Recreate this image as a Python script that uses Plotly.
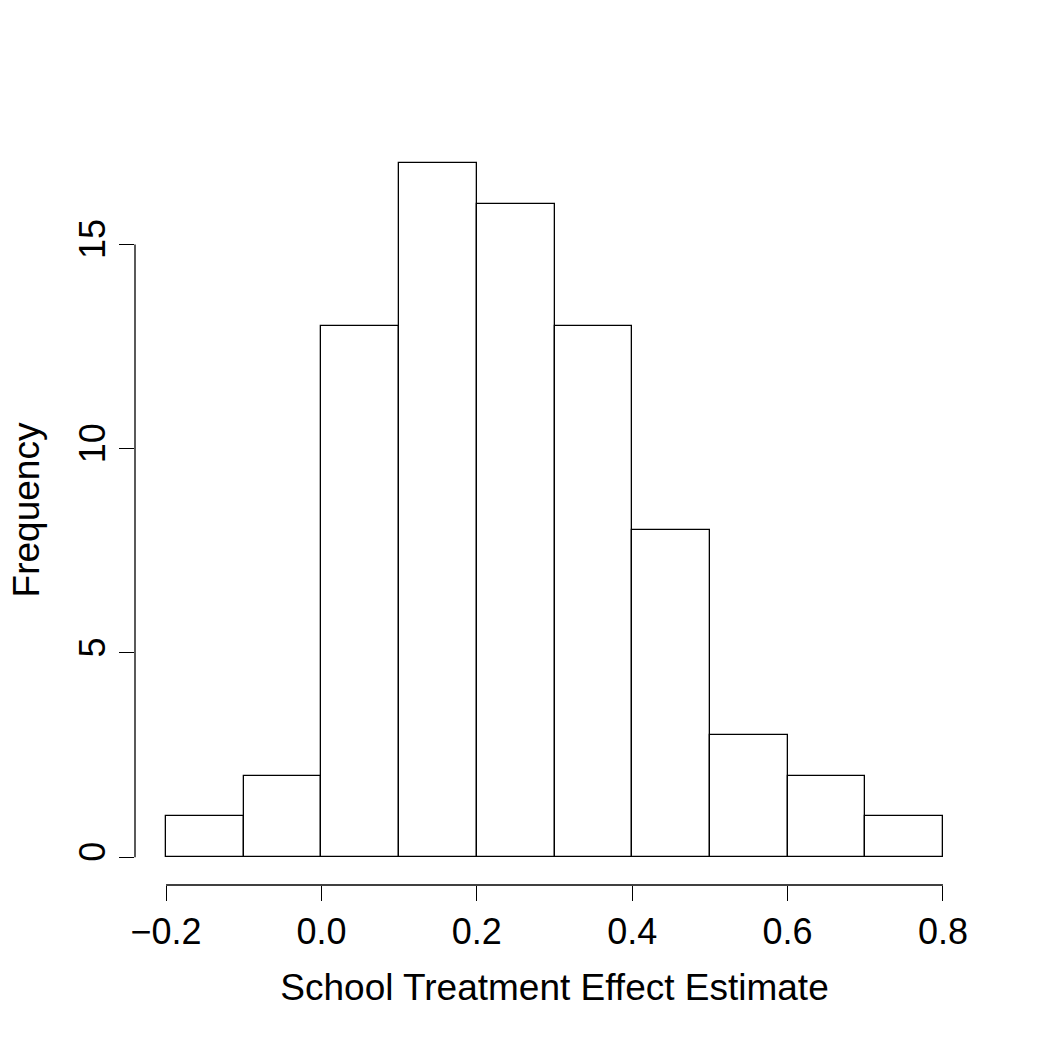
import plotly.graph_objects as go

bin_left = [-0.2, -0.1, 0.0, 0.1, 0.2, 0.3, 0.4, 0.5, 0.6, 0.7]
bin_width = 0.1
counts = [1, 2, 13, 17, 16, 13, 8, 3, 2, 1]
x_ticks = [-0.2, 0.0, 0.2, 0.4, 0.6, 0.8]
x_tick_labels = ["\u22120.2", "0.0", "0.2", "0.4", "0.6", "0.8"]
y_ticks = [0, 5, 10, 15]
y_tick_labels = ["0", "5", "10", "15"]

centers = [b + bin_width / 2 for b in bin_left]

font = dict(family="Liberation Sans, Arial, sans-serif", size=36, color="black")
title_font = dict(family="Liberation Sans, Arial, sans-serif", size=37, color="black")

fig = go.Figure()
fig.add_trace(go.Bar(
    x=centers, y=counts, width=bin_width,
    marker=dict(color="white", line=dict(color="black", width=1.3)),
    showlegend=False, hoverinfo="skip",
))

xr = [x_ticks[0] - 0.04 * (x_ticks[-1] - x_ticks[0]), x_ticks[-1] + 0.04 * (x_ticks[-1] - x_ticks[0])]
ymax = max(counts)
yr = [-0.04 * ymax, ymax * 1.04]

fig.update_layout(
    width=1050, height=1050,
    margin=dict(l=135, r=76, t=135, b=165),
    paper_bgcolor="white", plot_bgcolor="white",
    font=font,
    bargap=0,
    xaxis=dict(range=xr, tickvals=x_ticks, ticktext=x_tick_labels,
               ticks="outside", ticklen=15, tickwidth=1.3, tickcolor="black",
               showgrid=False, zeroline=False, showline=False,
               title=dict(text="School Treatment Effect Estimate", font=title_font, standoff=22),
               tickfont=font),
    yaxis=dict(range=yr, tickvals=y_ticks, ticktext=y_tick_labels,
               ticks="outside", ticklen=15, tickwidth=1.3, tickcolor="black",
               tickangle=-90,
               showgrid=False, zeroline=False, showline=False,
               title=dict(text="Frequency", font=title_font, standoff=20),
               tickfont=font),
)

# axis lines spanning first to last tick (R style)
fig.add_shape(type="line", xref="x", yref="paper", x0=x_ticks[0], x1=x_ticks[-1], y0=0, y1=0,
              line=dict(color="black", width=1.3))
fig.add_shape(type="line", xref="paper", yref="y", x0=0, x1=0, y0=y_ticks[0], y1=y_ticks[-1],
              line=dict(color="black", width=1.3))

fig.write_html("out.html")
